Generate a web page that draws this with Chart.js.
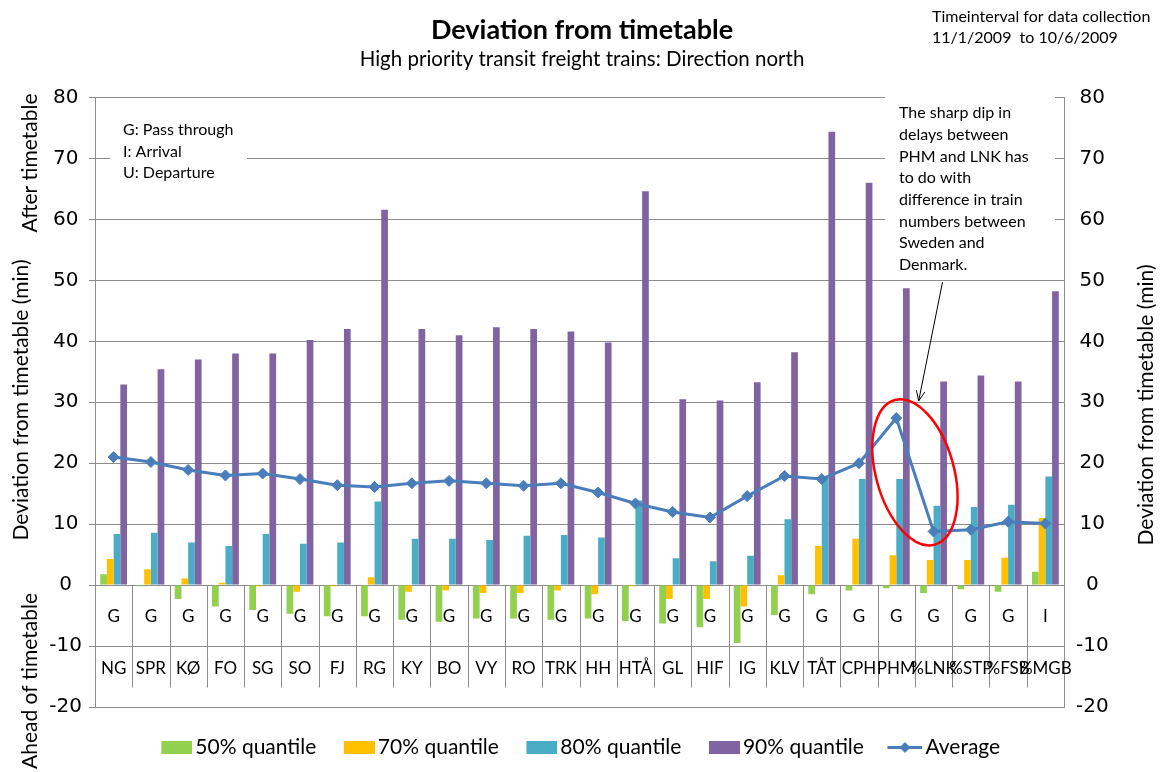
<!DOCTYPE html>
<html>
<head>
<meta charset="utf-8">
<script src="https://cdn.jsdelivr.net/npm/chart.js@4.4.1/dist/chart.umd.min.js"></script>
<style>
html,body{margin:0;padding:0;background:#fff;}
#wrap{width:1164px;height:772px;}
</style>
</head>
<body>
<div id="wrap"><canvas id="c" width="1164" height="772"></canvas></div>
<script>
// ---------- data ----------
const stations = ['NG','SPR','KØ','FO','SG','SO','FJ','RG','KY','BO','VY','RO','TRK','HH','HTÅ','GL','HIF','IG','KLV','TÅT','CPH','PHM','%LNK','%STP','%FSB','%MGB'];
const stopTypes = ['G','G','G','G','G','G','G','G','G','G','G','G','G','G','G','G','G','G','G','G','G','G','G','G','G','I'];
const q50 = [1.8,-0.2,-2.3,-3.5,-4.1,-4.7,-5.1,-5.1,-5.7,-6.0,-5.5,-5.5,-5.7,-5.5,-5.9,-6.3,-6.9,-9.5,-4.9,-1.5,-0.9,-0.5,-1.3,-0.7,-1.1,2.2];
const q70 = [4.3,2.6,1.1,0.4,-0.2,-1.1,-0.2,1.3,-1.1,-0.9,-1.3,-1.3,-0.9,-1.5,-0.2,-2.3,-2.3,-3.5,1.6,6.4,7.6,4.9,4.1,4.1,4.5,11.0];
const q80 = [8.4,8.6,7.0,6.4,8.4,6.8,7.0,13.7,7.6,7.6,7.4,8.1,8.2,7.8,13.9,4.4,3.9,4.8,10.8,17.7,17.4,17.4,13.0,12.8,13.2,17.8];
const q90 = [32.9,35.4,37.0,38.0,38.0,40.2,42.0,61.6,42.0,41.0,42.3,42.0,41.6,39.8,64.6,30.5,30.3,33.3,38.2,74.4,66.0,48.7,33.4,34.4,33.4,48.2];
const average = [21.0,20.2,18.9,18.0,18.3,17.4,16.4,16.1,16.7,17.1,16.7,16.3,16.7,15.2,13.4,12.0,11.1,14.6,17.9,17.4,20.0,27.4,8.8,9.1,10.4,10.1];
const seriesNames = ['50% quantile','70% quantile','80% quantile','90% quantile','Average'];
const seriesColors = ['#92d050','#ffc000','#4bacc6','#8064a2','#4a7ebb'];
const yMin = -20, yMax = 80, yStep = 10;

const titleText = 'Deviation from timetable';
const subtitleText = 'High priority transit freight trains: Direction north';
const periodLines = ['Timeinterval for data collection','11/1/2009  to 10/6/2009'];
const keyLines = ['G: Pass through','I: Arrival','U: Departure'];
const noteLines = ['The sharp dip in','delays between','PHM and LNK has','to do with','difference in train','numbers between','Sweden and','Denmark.'];
const axisTitle = 'Deviation from timetable (min)';
const afterLabel = 'After timetable';
const aheadLabel = 'Ahead of timetable';

// ---------- helpers ----------
const GRID = '#8c8c8c';
const TEXT_FONT = 'Lato';
function swatch(color){
  const c = document.createElement('canvas'); c.width = 36; c.height = 13;
  const g = c.getContext('2d'); g.fillStyle = color; g.fillRect(5, 0, 31, 13);
  return c;
}
function lineSwatch(color){
  const c = document.createElement('canvas'); c.width = 36; c.height = 13;
  const g = c.getContext('2d');
  g.strokeStyle = color; g.lineWidth = 3;
  g.beginPath(); g.moveTo(1, 6.5); g.lineTo(36, 6.5); g.stroke();
  g.fillStyle = color; g.beginPath();
  g.moveTo(18.5, 1); g.lineTo(24, 6.5); g.lineTo(18.5, 12); g.lineTo(13, 6.5); g.closePath(); g.fill();
  return c;
}

const decor = {
  id: 'decor',
  beforeDatasetsDraw(chart){
    const {ctx, scales:{x, y}} = chart;
    ctx.save();
    // white boxes behind the notes
    ctx.fillStyle = '#fff';
    ctx.fillRect(110, 117, 137, 68);
    ctx.fillRect(885, 92, 170, 185);
    // station table lines
    ctx.strokeStyle = GRID; ctx.lineWidth = 1;
    const y0 = Math.round(y.getPixelForValue(0)) + 0.5;
    const yb = y.getPixelForValue(-16.8);
    for (let i = 1; i < stations.length; i++){
      const px = Math.round((x.getPixelForValue(i - 1) + x.getPixelForValue(i)) / 2) + 0.5;
      ctx.beginPath(); ctx.moveTo(px, y0); ctx.lineTo(px, yb); ctx.stroke();
    }
    ctx.restore();
  },
  afterDraw(chart){
    const {ctx, scales:{x, y}} = chart;
    ctx.save();
    ctx.fillStyle = '#000';
    ctx.textBaseline = 'middle';
    // period text
    ctx.font = '16px ' + TEXT_FONT; ctx.textAlign = 'left';
    periodLines.forEach((t, i) => ctx.fillText(t, 932, 17 + i * 21));
    // key
    ctx.font = '16px ' + TEXT_FONT;
    keyLines.forEach((t, i) => ctx.fillText(t, 123, 130 + i * 21.5));
    // note
    ctx.font = '16px ' + TEXT_FONT;
    noteLines.forEach((t, i) => ctx.fillText(t, 899, 113 + i * 21.7));
    // axis titles
    const vtext = (t, cx, cy, size) => {
      ctx.save(); ctx.translate(cx, cy); ctx.rotate(-Math.PI / 2);
      ctx.font = size + 'px ' + TEXT_FONT; ctx.textAlign = 'center'; ctx.textBaseline = 'middle';
      ctx.fillText(t, 0, 0); ctx.restore();
    };
    vtext(axisTitle, 21, 400, 21);
    vtext(afterLabel, 30, 163, 21);
    vtext(aheadLabel, 30, 681, 21);
    vtext(axisTitle, 1146, 405, 21);
    // arrow
    const ax1 = x.getPixelForValue(22.24), ay1 = y.getPixelForValue(49.7);
    const ax2 = x.getPixelForValue(21.6), ay2 = y.getPixelForValue(30.2);
    ctx.strokeStyle = '#000'; ctx.lineWidth = 1;
    ctx.beginPath(); ctx.moveTo(ax1, ay1); ctx.lineTo(ax2, ay2); ctx.stroke();
    const ang = Math.atan2(ay2 - ay1, ax2 - ax1);
    ctx.beginPath();
    ctx.moveTo(ax2 - 11 * Math.cos(ang - 0.4), ay2 - 11 * Math.sin(ang - 0.4));
    ctx.lineTo(ax2, ay2);
    ctx.lineTo(ax2 - 11 * Math.cos(ang + 0.4), ay2 - 11 * Math.sin(ang + 0.4));
    ctx.stroke();
    // red ellipse
    const ex = x.getPixelForValue(21.5), ey = y.getPixelForValue(18.5);
    ctx.strokeStyle = '#ff0000'; ctx.lineWidth = 2.5;
    ctx.beginPath(); ctx.ellipse(ex, ey, 39, 75, -0.27, 0, Math.PI * 2); ctx.stroke();
    ctx.restore();
  }
};

const labels = stations.map((s, i) => [stopTypes[i], s]);
const barSets = [q50, q70, q80, q90].map((d, i) => ({
  type: 'bar', label: seriesNames[i], data: d,
  backgroundColor: seriesColors[i], borderWidth: 0,
  categoryPercentage: 0.72, barPercentage: 1.0, order: 1
}));
const lineSet = {
  type: 'line', label: seriesNames[4], data: average,
  borderColor: seriesColors[4], backgroundColor: seriesColors[4], borderWidth: 3,
  pointStyle: 'rectRot', pointRadius: 5.5, pointBorderWidth: 1,
  pointBackgroundColor: seriesColors[4], pointBorderColor: seriesColors[4],
  tension: 0, order: 0
};

new Chart(document.getElementById('c'), {
  type: 'bar',
  data: { labels, datasets: [...barSets, lineSet] },
  plugins: [decor],
  options: {
    responsive: false, animation: false, devicePixelRatio: 1,
    layout: { padding: { left: 0, right: 0, top: 0, bottom: 4 } },
    scales: {
      x: {
        position: { y: 0 },
        grid: { display: false, drawTicks: false },
        border: { display: false },
        ticks: { autoSkip: false, maxRotation: 0, minRotation: 0, padding: 5, color: '#000', z: 1,
                 font: { family: TEXT_FONT, size: 17, lineHeight: '52px' } }
      },
      y: {
        position: 'left', min: yMin, max: yMax,
        afterFit(s){ s.width = 95; },
        grid: { color: GRID, tickLength: 6, drawTicks: true },
        border: { display: true, color: GRID },
        ticks: { stepSize: yStep, padding: 7, crossAlign: 'center', color: '#000',
                 font: { family: 'DejaVu Sans', size: 20 } }
      },
      y2: {
        position: 'right', min: yMin, max: yMax,
        afterFit(s){ s.width = 100; },
        grid: { drawOnChartArea: false, drawTicks: false },
        border: { display: true, color: GRID },
        ticks: { stepSize: yStep, padding: 12, crossAlign: 'center', color: '#000',
                 font: { family: 'DejaVu Sans', size: 20 } }
      }
    },
    plugins: {
      tooltip: { enabled: false },
      title: { display: true, text: titleText, color: '#000',
               font: { family: TEXT_FONT, size: 27, weight: 'bold' }, padding: { top: 14, bottom: 0 } },
      subtitle: { display: true, text: subtitleText, color: '#000',
                  font: { family: TEXT_FONT, size: 20.5 }, padding: { top: 1, bottom: 25.5 } },
      legend: {
        position: 'bottom',
        labels: {
          usePointStyle: true, pointStyleWidth: 21, padding: 30, color: '#000',
          font: { family: TEXT_FONT, size: 21 },
          generateLabels(chart){
            return chart.data.datasets.map((ds, i) => ({
              text: ds.label, datasetIndex: i, hidden: false, lineWidth: 0,
              fillStyle: seriesColors[i], strokeStyle: seriesColors[i], fontColor: '#000',
              pointStyle: i === 4 ? lineSwatch(seriesColors[i]) : swatch(seriesColors[i])
            }));
          }
        }
      }
    }
  }
});
</script>
</body>
</html>
